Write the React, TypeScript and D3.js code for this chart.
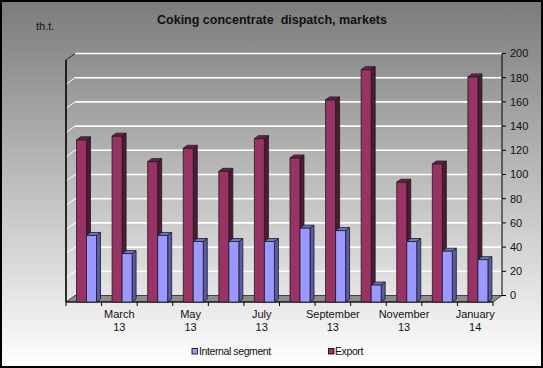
import React from "react";
import * as d3 from "d3";

// months shown along the bottom, every second one gets a label
const months = [
  "February", "March", "April", "May", "June", "July",
  "August", "September", "October", "November", "December", "January",
];
const years = ["13", "13", "13", "13", "13", "13", "13", "13", "13", "13", "13", "14"];
const internalSegment = [55, 40, 55, 50, 50, 50, 61, 59, 14, 50, 42, 35];
const exportValues = [134, 137, 116, 127, 108, 135, 119, 167, 192, 99, 114, 186];
const valueTicks = [0, 20, 40, 60, 80, 100, 120, 140, 160, 180, 200];

const W = 543;
const H = 368;
const font = "'Liberation Sans', Arial, sans-serif";

// 3d depth of the plot box and of each bar
const DX = 9;
const DY = -6.5;
const barDX = 4;
const barDY = -3;

const colors = {
  exp: { front: "#993366", side: "#4f1a35", top: "#6e2249" },
  int: { front: "#9999ff", side: "#5a5aa8", top: "#7373cc" },
};

const App = () => {
  const keys = months.map((m, i) => m + i);
  const x = d3.scaleBand().domain(keys).range([66, 493]).paddingInner(0);
  const yFront = d3.scaleLinear().domain([0, 200]).range([302, 60]);
  const yBack = (v) => yFront(v) + DY;
  const bw = x.bandwidth();
  const barW = 10;

  function bar(x0, v, c, key) {
    const y0 = yFront(0);
    const y1 = yFront(v);
    const x1 = x0 + barW;
    const pts = (arr) => arr.map((p) => p.join(",")).join(" ");
    return (
      <g key={key} stroke="#1a1a1a" strokeWidth={0.8} strokeLinejoin="round">
        <polygon
          points={pts([[x1, y0], [x1 + barDX, y0 + barDY], [x1 + barDX, y1 + barDY], [x1, y1]])}
          fill={c.side}
        />
        <polygon
          points={pts([[x0, y1], [x1, y1], [x1 + barDX, y1 + barDY], [x0 + barDX, y1 + barDY]])}
          fill={c.top}
        />
        <rect x={x0} y={y1} width={barW} height={y0 - y1} fill={c.front} />
      </g>
    );
  }

  const left = 66;
  const right = 493;

  return (
    <svg width={W} height={H} style={{ position: "absolute", left: 0, top: 0 }} fontFamily={font}>
      <defs>
        <linearGradient id="bg" x1="0" y1="0" x2="0" y2="1">
          <stop offset="0" stopColor="#7b7b7b" />
          <stop offset="0.55" stopColor="#c4c4c4" />
          <stop offset="1" stopColor="#ffffff" />
        </linearGradient>
      </defs>
      <rect x={1} y={1} width={W - 2} height={H - 2} fill="url(#bg)" stroke="#000" strokeWidth={2} />

      <text x={272} y={24} textAnchor="middle" fontSize={12.5} fontWeight="bold" fill="#111" style={{ whiteSpace: "pre" }}>
        {"Coking concentrate  dispatch, markets"}
      </text>
      <text x={36} y={30} fontSize={11} fill="#111">th.t.</text>

      {/* gridlines on back wall and left wall */}
      {valueTicks.slice(1).map((t) => (
        <g key={"g" + t} stroke="#ffffff" strokeWidth={1.6}>
          <line x1={left + DX} x2={right + DX} y1={yBack(t)} y2={yBack(t)} />
          <line x1={left} x2={left + DX} y1={yFront(t)} y2={yBack(t)} strokeWidth={1} />
        </g>
      ))}

      {/* floor */}
      <polygon
        points={`${left},${yFront(0)} ${right},${yFront(0)} ${right + DX},${yBack(0)} ${left + DX},${yBack(0)}`}
        fill="#8c8c8c"
        stroke="#222"
        strokeWidth={0.8}
      />
      <line x1={left} x2={right} y1={yFront(0)} y2={yFront(0)} stroke="#000" strokeWidth={1.2} />

      {/* left wall edge */}
      <line x1={left} x2={left} y1={yFront(0)} y2={yFront(200)} stroke="#000" strokeWidth={1.6} />
      <line x1={left} x2={left + DX} y1={yFront(200)} y2={yBack(200)} stroke="#000" strokeWidth={1} />

      {/* right value axis */}
      <line x1={right + DX} x2={right + DX} y1={yBack(0)} y2={yBack(200)} stroke="#000" strokeWidth={1} />
      {valueTicks.map((t) => (
        <g key={"t" + t}>
          <line x1={right + DX} x2={right + DX + 4} y1={yBack(t)} y2={yBack(t)} stroke="#000" />
          <text x={right + DX + 8} y={yBack(t)} dy="0.35em" fontSize={11} fill="#111">
            {t}
          </text>
        </g>
      ))}

      {/* category ticks and labels */}
      {keys.concat(["end"]).map((k, i) => {
        const xx = i < keys.length ? x(k) : right;
        return <line key={"c" + i} x1={xx} x2={xx} y1={yFront(0)} y2={yFront(0) + 4} stroke="#000" />;
      })}
      {keys.map((k, i) =>
        i % 2 === 1 ? (
          <text key={"l" + i} x={x(k) + bw / 2} y={318} textAnchor="middle" fontSize={11} fill="#111">
            <tspan x={x(k) + bw / 2}>{months[i]}</tspan>
            <tspan x={x(k) + bw / 2} dy={12.5}>{years[i]}</tspan>
          </text>
        ) : null
      )}

      {/* bars */}
      {keys.map((k, i) => (
        <g key={"b" + i}>
          {bar(x(k) + 10.5, exportValues[i], colors.exp, "e")}
          {bar(x(k) + 20.5, internalSegment[i], colors.int, "i")}
        </g>
      ))}

      {/* legend */}
      <g fontSize={10.5} fill="#111">
        <rect x={192} y={348.5} width={5.5} height={5.5} fill="#9999ff" stroke="#000" strokeWidth={0.8} />
        <text x={199} y={355} letterSpacing={-0.4}>Internal segment</text>
        <rect x={328.5} y={348.5} width={5.5} height={5.5} fill="#993366" stroke="#000" strokeWidth={0.8} />
        <text x={335} y={355} letterSpacing={-0.4}>Export</text>
      </g>
    </svg>
  );
};

export default App;
